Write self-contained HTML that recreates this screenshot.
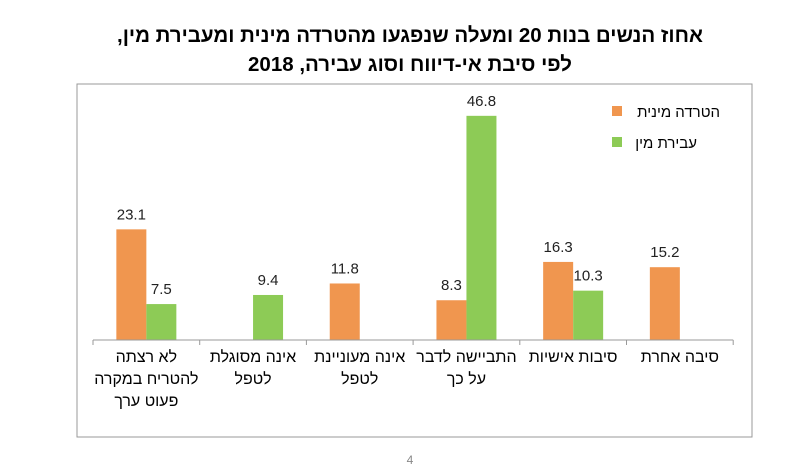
<!DOCTYPE html>
<html><head><meta charset="utf-8"><style>
body{margin:0;background:#fff;width:811px;height:466px;overflow:hidden;font-family:"Liberation Sans","DejaVu Sans",sans-serif}
</style></head><body>
<svg width="811" height="466" xmlns="http://www.w3.org/2000/svg">
<text x="410" y="42" text-anchor="middle" font-size="20.5" font-weight="bold" direction="rtl">אחוז הנשים בנות 20 ומעלה שנפגעו מהטרדה מינית ומעבירת מין,</text>
<text x="410" y="71" text-anchor="middle" font-size="20.5" font-weight="bold" direction="rtl">לפי סיבת אי-דיווח וסוג עבירה, 2018</text>
<rect x="77" y="84" width="675" height="353" fill="none" stroke="#999"/>
<g id="plot"></g>
<rect x="612" y="106" width="10" height="10" fill="#F0964F"/>
<text x="720" y="117" text-anchor="start" font-size="15" direction="rtl">הטרדה מינית</text>
<rect x="612" y="137" width="10" height="10" fill="#8DCB56"/>
<text x="697" y="148" text-anchor="start" font-size="15" direction="rtl">עבירת מין</text>
<text x="410" y="464" text-anchor="middle" font-size="12" fill="#888">4</text>
</svg>
<script>
const categories=[["לא רצתה","להטריח במקרה","פעוט ערך"],["אינה מסוגלת","לטפל"],["אינה מעוניינת","לטפל"],["התביישה לדבר","על כך"],["סיבות אישיות"],["סיבה אחרת"]];
const harassment=[23.1,null,11.8,8.3,16.3,15.2];
const offense=[7.5,9.4,null,46.8,10.3,null];
const NS="http://www.w3.org/2000/svg";
const g=document.getElementById('plot');
const x0=93,step=106.7,base=340,ppu=4.79,bw=30;
const xc=i=>x0+step*(i+0.5);
const y=v=>base-v*ppu;
function mk(t,a){const e=document.createElementNS(NS,t);for(const k in a)e.setAttribute(k,a[k]);g.appendChild(e);return e;}
function bar(i,v,dx,col,nm){
 if(v==null)return;
 const r=mk('rect',{x:xc(i)+dx,y:y(v),width:bw,height:v*ppu,fill:col});
 
 
 const t=mk('text',{x:xc(i)+dx+bw/2,y:y(v)-10,'text-anchor':'middle','font-size':'15',fill:'#222'});
 t.textContent=v.toFixed(1);
 
 
}
categories.forEach((c,i)=>{
 bar(i,harassment[i],-bw,'#F0964F','harassment');
 bar(i,offense[i],0,'#8DCB56','offense');
 c.forEach((ln,j)=>{
  const t=mk('text',{x:xc(i),y:362+j*22,'text-anchor':'middle','font-size':'16',direction:'rtl'});
  t.textContent=ln;
  
  
 });
});
const ax=mk('line',{x1:x0,x2:x0+step*6,y1:base,y2:base,stroke:'#999'});


for(let i=0;i<=6;i++){
 const tk=mk('line',{x1:x0+step*i,x2:x0+step*i,y1:base,y2:base+5,stroke:'#999'});
 
 
}
</script>
</body></html>
